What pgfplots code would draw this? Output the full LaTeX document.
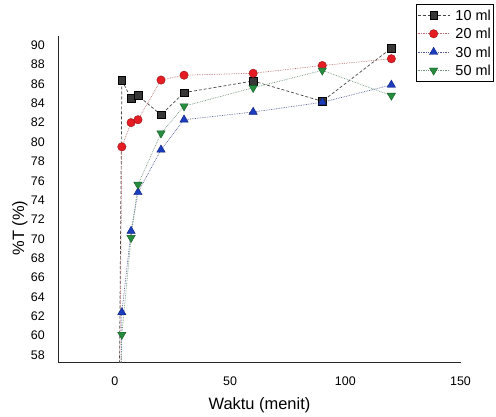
\documentclass[border=0pt]{standalone}
\usepackage{fontspec}
\setmainfont{Liberation Sans}
\usepackage{pgfplots}
\pgfplotsset{compat=1.18}

\definecolor{sqfill}{RGB}{55,55,55}
\definecolor{redfill}{RGB}{230,28,36}
\definecolor{reddraw}{RGB}{150,20,20}
\definecolor{bluefill}{RGB}{28,62,190}
\definecolor{bluedraw}{RGB}{12,30,120}
\definecolor{greenfill}{RGB}{38,140,62}
\definecolor{greendraw}{RGB}{20,90,40}
\definecolor{lblack}{RGB}{70,70,70}
\definecolor{lred}{RGB}{185,110,110}
\definecolor{lblue}{RGB}{80,90,150}
\definecolor{lgreen}{RGB}{110,150,120}

\begin{document}
\begin{tikzpicture}
\useasboundingbox (-58.5bp,-54.3bp) rectangle (437.5bp,362.7bp);
\begin{axis}[
  at={(0,0)}, anchor=south west,
  width=402bp, height=326.2bp, scale only axis,
  xmin=-24.5, xmax=150, ymin=57.2, ymax=90.9,
  axis x line*=bottom, axis y line*=left,
  axis line style={-, line width=0.9bp, black!85},
  xtick={0,50,100,150}, ytick={58,60,...,90},
  major tick length=0pt,
  /pgf/number format/assume math mode=true,
  tick label style={font=\fontsize{12.5}{14}\selectfont},
  xticklabel style={anchor=north, inner sep=0pt, yshift=-13.5bp},
  yticklabel style={anchor=east, inner sep=0pt, xshift=-13.5bp},
  xlabel={Waktu (menit)},
  ylabel={\%T (\%)},
  label style={font=\fontsize{16.5}{18}\selectfont},
  xlabel style={at={(axis description cs:0.5,-0.13)}, anchor=center},
  ylabel style={at={(axis description cs:-0.096,0.413)}, anchor=center},
  legend style={at={(axis description cs:0.889,1.1)}, anchor=north west,
    draw=black, line width=0.8bp, font=\fontsize{14.5}{16}\selectfont,
    inner xsep=1bp, inner ysep=4.5bp, row sep=4.9bp,
    nodes={inner sep=1.5bp, text height=10.4bp, text depth=0bp},
    /tikz/every odd column/.append style={column sep=4bp}},
  legend cell align=left,
  legend image code/.code={\draw[mark repeat=2,mark phase=2] plot coordinates {(0bp,0bp) (16bp,0bp) (32bp,0bp)};},
]
\addplot[color=lblack, line width=0.7bp, densely dashed, mark=square*,
  mark size=3.8bp, mark options={solid, fill=sqfill, draw=black, line width=0.5bp}]
  coordinates {(0,0) (3,86.4) (7,84.5) (10,84.8) (20,82.8) (30,85.1) (60,86.3) (90,84.2) (120,89.7)};
\addlegendentry{10 ml}
\addplot[color=lred, line width=0.7bp, densely dotted, mark=*,
  mark size=4.2bp, mark options={solid, fill=redfill, draw=reddraw, line width=0.4bp}]
  coordinates {(0,0) (3,79.5) (7,82.0) (10,82.3) (20,86.4) (30,86.9) (60,87.1) (90,87.9) (120,88.6)};
\addlegendentry{20 ml}
\addplot[color=lblue, line width=0.7bp, densely dotted, mark=triangle*,
  mark size=4.8bp, mark options={solid, fill=bluefill, draw=bluedraw, line width=0.4bp}]
  coordinates {(0,0) (3,62.4) (7,70.8) (10,74.8) (20,79.2) (30,82.3) (60,83.1) (90,84.1) (120,85.9)};
\addlegendentry{30 ml}
\addplot[color=lgreen, line width=0.7bp, densely dotted, mark=triangle*,
  mark size=4.8bp, mark options={solid, rotate=180, fill=greenfill, draw=greendraw, line width=0.4bp}]
  coordinates {(0,0) (3,60.1) (7,70.1) (10,75.6) (20,80.9) (30,83.7) (60,85.6) (90,87.4) (120,84.8)};
\addlegendentry{50 ml}
\end{axis}
\end{tikzpicture}
\end{document}
